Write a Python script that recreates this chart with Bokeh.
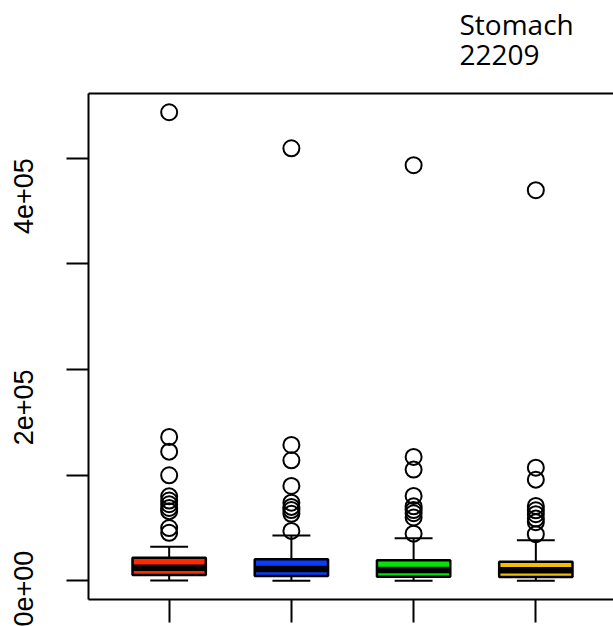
import math
from bokeh.plotting import figure
from bokeh.models import Range1d, LinearAxis, FixedTicker, Title, ColumnDataSource
from bokeh.embed import file_html
from bokeh.resources import INLINE

# ---- data ----
positions = [1, 2, 3, 4]
colors = ["#FF2A00", "#0A3CFF", "#00E600", "#F2BE00"]
lower_whisker = [300, 200, 200, 100]
q1 = [5500, 4500, 3900, 3600]
median = [12500, 11200, 10300, 10000]
q3 = [21900, 20500, 19600, 18000]
upper_whisker = [32400, 43000, 40400, 38500]
outliers_1 = [443500, 136200, 122300, 99900, 80000, 76000, 72500, 69000, 66000, 50000, 45500]
outliers_2 = [409400, 128600, 114100, 89800, 74000, 70000, 67000, 63500, 47300]
outliers_3 = [393400, 117300, 105300, 80400, 70500, 67000, 64000, 60000, 44700]
outliers_4 = [369700, 107100, 95800, 70900, 66800, 63100, 59000, 55500, 44200]
y_label_ticks = [0, 200000, 400000]
y_label_texts = ["0e+00", "2e+05", "4e+05"]
y_unlabelled_ticks = [100000, 300000]
title_lines = ["Stomach", "22209"]

# ---- layout ----
W, H = 613, 626
left, top, bottom_pad = 88, 93, 27
frame_h = H - top - bottom_pad
full_frame_w = 528  # R plot region (extends past the window)
frame_w = W - left

all_outliers = [outliers_1, outliers_2, outliers_3, outliers_4]
ymin = min(min(lower_whisker), min(min(o) for o in all_outliers))
ymax = max(max(upper_whisker), max(max(o) for o in all_outliers))
span = ymax - ymin
y0, y1 = ymin - 0.04 * span, ymax + 0.04 * span
x0 = 0.5 - 0.04 * 4
xppu = full_frame_w / 4.32
x1 = x0 + frame_w / xppu

p = figure(width=W, height=H, output_backend="svg", toolbar_location=None,
           x_range=Range1d(x0, x1), y_range=Range1d(y0, y1),
           min_border_left=left, min_border_top=top, min_border_right=0,
           min_border_bottom=bottom_pad, x_axis_location=None, y_axis_location=None)
p.outline_line_color = None
p.grid.visible = False
p.background_fill_color = "white"
p.border_fill_color = "white"

# left axis
yax = LinearAxis(ticker=FixedTicker(ticks=y_label_ticks, minor_ticks=y_unlabelled_ticks))
yax.major_label_overrides = {v: l for v, l in zip(y_label_ticks, y_label_texts)}
yax.major_tick_out = 22
yax.major_tick_in = 0
yax.minor_tick_out = 22
yax.minor_tick_in = 0
yax.axis_line_width = 2
yax.major_tick_line_width = 2
yax.minor_tick_line_width = 2
yax.axis_line_color = "black"
yax.major_tick_line_color = "black"
yax.minor_tick_line_color = "black"
yax.major_label_orientation = math.pi / 2
yax.major_label_text_font = "Liberation Sans"
yax.major_label_text_font_size = "27px"
yax.major_label_text_color = "black"
yax.major_label_standoff = 43
p.add_layout(yax, "left")

# bottom axis (ticks only)
xax = LinearAxis(ticker=FixedTicker(ticks=[], minor_ticks=positions))
xax.major_tick_out = 0
xax.major_tick_in = 0
xax.minor_tick_out = 23
xax.minor_tick_in = 0
xax.axis_line_width = 2
xax.minor_tick_line_width = 2
xax.axis_line_color = "black"
xax.minor_tick_line_color = "black"
p.add_layout(xax, "below")

# top border; an invisible minor tick reserves the gap below the title lines
tax = LinearAxis(ticker=FixedTicker(ticks=[], minor_ticks=[2.5]))
tax.major_tick_out = 29
tax.major_tick_in = 0
tax.minor_tick_out = 29
tax.minor_tick_in = 0
tax.minor_tick_line_color = None
tax.axis_line_width = 2
tax.axis_line_color = "black"
p.add_layout(tax, "above")

box_w = 0.6
cap_w = 0.31
src = ColumnDataSource(dict(
    x=positions, color=colors, lo=lower_whisker, q1=q1, med=median, q3=q3, hi=upper_whisker,
    xl=[x - box_w / 2 for x in positions], xr=[x + box_w / 2 for x in positions],
    cl=[x - cap_w / 2 for x in positions], cr=[x + cap_w / 2 for x in positions],
))

# whiskers
p.segment(x0="x", y0="q3", x1="x", y1="hi", source=src, line_color="black", line_width=2)
p.segment(x0="x", y0="q1", x1="x", y1="lo", source=src, line_color="black", line_width=2)
p.segment(x0="cl", y0="hi", x1="cr", y1="hi", source=src, line_color="black", line_width=2)
p.segment(x0="cl", y0="lo", x1="cr", y1="lo", source=src, line_color="black", line_width=2)
# boxes
p.vbar(x="x", width=box_w, bottom="q1", top="q3", source=src, fill_color="color",
       line_color="black", line_width=2.5)
# medians
p.segment(x0="xl", y0="med", x1="xr", y1="med", source=src, line_color="black", line_width=6.5)

# outliers
ox, oy = [], []
for pos, outs in zip(positions, all_outliers):
    ox += [pos] * len(outs)
    oy += outs
p.scatter(ox, oy, marker="circle", size=16, fill_color=None, line_color="black", line_width=2)

# title text (top right, above plot region)
for line in reversed(title_lines):
    t = Title(text=line, align="left", offset=371, text_font="Open Sans",
              text_font_size="28px", text_font_style="normal", text_color="black",
              standoff=0)
    p.add_layout(t, "above")

open("out.html", "w").write(file_html(p, INLINE))
